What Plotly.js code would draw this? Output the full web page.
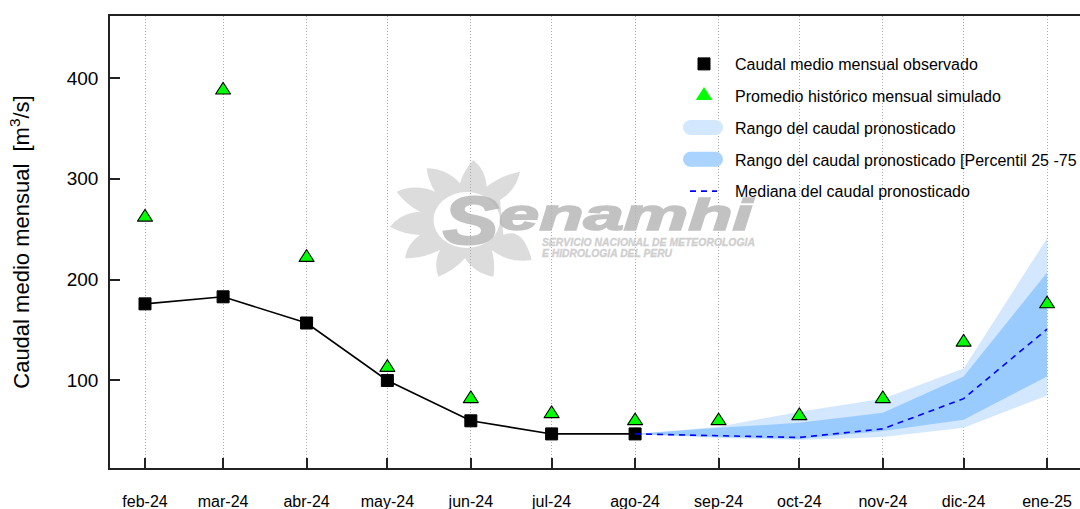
<!DOCTYPE html>
<html><head><meta charset="utf-8">
<script src="https://cdn.plot.ly/plotly-3.0.1.min.js"></script>
<style>html,body{margin:0;padding:0;width:1080px;height:509px;overflow:hidden;background:#fff}#chart{width:1086px;height:509px}</style>
</head><body><div id="chart"></div>
<script>
const months = ['2024-02-01','2024-03-01','2024-04-01','2024-05-01','2024-06-01','2024-07-01','2024-08-01','2024-09-01','2024-10-01','2024-11-01','2024-12-01','2025-01-01'];
const tickLabels = ['feb-24','mar-24','abr-24','may-24','jun-24','jul-24','ago-24','sep-24','oct-24','nov-24','dic-24','ene-25'];
const observed = [176,183,157,100,60,47,47];
const historical = [262,388,222,113,82,67,60,60,65,82,138,176];
const forecastMonths = months.slice(6);
const rangeLow = [47,43,41,44,53,85];
const rangeHigh = [47,54,69,82,112,241];
const p25 = [47,44,42,50,61,104];
const p75 = [47,53,58,68,104,207];
const median = [47,45,43.5,52,82,151];

const W=1086,H=509,L=110,R=2,T=16,B=41;
const PW=W-L-R,PH=H-T-B;
const px=x=>(x-L)/PW, py=y=>1-(y-T)/PH;

// Watermark outline (zoomed logo coordinates)
const sunTips=[[265,15],[405,50],[440,315],[325,365],[160,365],[60,310],[15,215],[35,110],[125,40]];
const sunNotchesAfter=[[305,95],[345,135],[320,285],[240,310],[165,285],[105,240],[105,170],[150,110],[225,85]];
const zx=z=>385+z/3, zy=z=>155+z/3;
function sunPath(){
  const P=(p)=>px(zx(p[0]))+','+py(zy(p[1]));
  let d='M'+P(sunNotchesAfter[8]);
  sunTips.forEach((t,i)=>{
    const prev=i===0?sunNotchesAfter[8]:sunNotchesAfter[i-1], nxt=sunNotchesAfter[i];
    if(i===2){ d+=' L'+P([355,240]); }
    const c1=[(prev[0]+t[0])/2+(t[1]-prev[1])*0.12,(prev[1]+t[1])/2-(t[0]-prev[0])*0.12];
    const c2=[(t[0]+nxt[0])/2+(nxt[1]-t[1])*0.22,(t[1]+nxt[1])/2-(nxt[0]-t[0])*0.22];
    d+=' Q'+P(c1)+' '+P(t)+' Q'+P(c2)+' '+P(nxt);
  });
  return d+' Z';
}
const shapes=[
 {type:'path',xref:'paper',yref:'paper',layer:'below',path:sunPath(),fillcolor:'#dcdcdc',line:{width:0}},
 {type:'circle',xref:'paper',yref:'paper',layer:'below',x0:px(433.5),x1:px(500),y0:py(248),y1:py(192),fillcolor:'#ffffff',line:{width:0}}
];
const wm=(text,x,y,size,color)=>({text,xref:'paper',yref:'paper',x:px(x),y:py(y),xanchor:'center',yanchor:'middle',showarrow:false,
  font:{family:'Liberation Sans',size,color},captureevents:false});
const annotations=[
 wm('<b><i>S</i></b>',470,220,68,'#b4b4b4'),
 wm('<b><i>enamhi</i></b>',626,214,45,'#b4b4b4'),
 wm('<b><i>SERVICIO NACIONAL DE METEOROLOGIA</i></b>',648,242,10,'#c4c4c4'),
 wm('<b><i>E HIDROLOGIA DEL PERU</i></b>',607,253,10,'#c4c4c4')
];
const wmWidths=[56,254,213,130];
const wmStroke=[2,1.6,0.3,0.3];

const data=[
 {name:'Rango del caudal pronosticado',x:forecastMonths.concat(forecastMonths.slice().reverse()),y:rangeHigh.concat(rangeLow.slice().reverse()),
  fill:'toself',fillcolor:'#D3E7FF',mode:'lines',line:{width:0},legendgroup:'c',legendrank:3,hoverinfo:'skip'},
 {name:'Rango del caudal pronosticado [Percentil 25 -75',x:forecastMonths.concat(forecastMonths.slice().reverse()),y:p75.concat(p25.slice().reverse()),
  fill:'toself',fillcolor:'#99CBFF',mode:'lines',line:{width:0},legendgroup:'d',legendrank:4,hoverinfo:'skip'},
 {x:months.slice(0,observed.length),y:observed,mode:'lines',line:{color:'#000',width:1.6},showlegend:false},
 {name:'Caudal medio mensual observado',x:months.slice(0,observed.length),y:observed,mode:'markers',
  marker:{symbol:'square',size:12,color:'#000',line:{color:'#000',width:1}},legendgroup:'a',legendrank:1},
 {name:'Promedio histórico mensual simulado',x:months,y:historical,mode:'markers',
  marker:{symbol:'triangle-up',size:13,color:'#00FF00',line:{color:'#000',width:1}},legendgroup:'b',legendrank:2},
 {name:'Mediana del caudal pronosticado',x:forecastMonths,y:median,mode:'lines',line:{color:'#0000FF',width:1.6,dash:'6px,5px'},legendgroup:'e',legendrank:5}
];
const layout={
 width:W,height:H,margin:{l:L,r:R,t:T,b:B},paper_bgcolor:'#fff',plot_bgcolor:'rgba(0,0,0,0)',
 font:{family:'Liberation Sans, Arial, sans-serif',color:'#000'},
 showlegend:true,
 legend:{x:px(673),y:py(47),xanchor:'left',yanchor:'top',bgcolor:'rgba(0,0,0,0)',borderwidth:0,font:{size:16},
   traceorder:'grouped',tracegroupgap:8,itemwidth:52,itemclick:false,itemdoubleclick:false},
 xaxis:{type:'date',range:['2024-01-19 00:00','2025-01-14 17:00'],tickvals:months,ticktext:tickLabels,tickfont:{size:16},
   ticks:'inside',ticklen:10,tickwidth:1.5,tickcolor:'#222',showline:true,linecolor:'#222',linewidth:1.5,mirror:true,
   showgrid:true,gridcolor:'#aaaaaa',griddash:'1px,2px',gridwidth:1,zeroline:false,ticklabelstandoff:18},
 yaxis:{range:[13.2,461.5],tickvals:[100,200,300,400],ticktext:['100','200','300','400'],tickfont:{size:19},
   ticks:'inside',ticklen:10,tickwidth:1.5,tickcolor:'#222',showline:true,linecolor:'#222',linewidth:1.5,mirror:true,
   showgrid:false,zeroline:false,ticklabelstandoff:6,
   title:{text:'Caudal medio mensual  [m<sup>3</sup>/s]',font:{size:22},standoff:31},automargin:false},
 shapes,annotations
};
Plotly.newPlot('chart',data,layout,{displayModeBar:false,responsive:false}).then(gd=>{
  document.querySelectorAll('.annotation .annotation-text').forEach((t,i)=>{
    if(wmWidths[i]){
      t.setAttribute('textLength',wmWidths[i]);t.setAttribute('lengthAdjust','spacingAndGlyphs');
      t.style.stroke=t.style.fill;t.style.strokeWidth=wmStroke[i];t.setAttribute('opacity',0.8);
    }
  });
  // rounded square corners; taller triangles as in the reference
  document.querySelectorAll('.points .point').forEach(p=>{
    p.style.strokeLinejoin='round';
    if(p.style.fill==='rgb(0, 255, 0)'){p.setAttribute('transform',(p.getAttribute('transform')||'')+' scale(1,1.2)');}
  });
  document.querySelectorAll('.legend .legendpoints path').forEach(p=>{
    p.style.strokeLinejoin='round';
    if(p.style.fill==='rgb(0, 255, 0)'){
      p.style.strokeWidth='0';
      p.setAttribute('transform',(p.getAttribute('transform')||'')+' scale(1.1,1.35)');
    }
  });
  // pill-shaped legend keys for the two ranges, shorter median key
  const keyColors=['#D3E7FF','#AAD4FF'];
  document.querySelectorAll('.legend .legendfill path.js-fill').forEach((p,i)=>{
    p.setAttribute('d','M17.5,-7.5H42.5A7.5,7.5 0 0 1 42.5,7.5H17.5A7.5,7.5 0 0 1 17.5,-7.5Z');
    p.style.fill=keyColors[i]||p.style.fill;
  });
  document.querySelectorAll('.legend .legendlines path.js-line').forEach(p=>{
    if(p.style.stroke==='rgb(0, 0, 255)'){p.setAttribute('d','M17,0H44');}
  });
});
</script></body></html>
